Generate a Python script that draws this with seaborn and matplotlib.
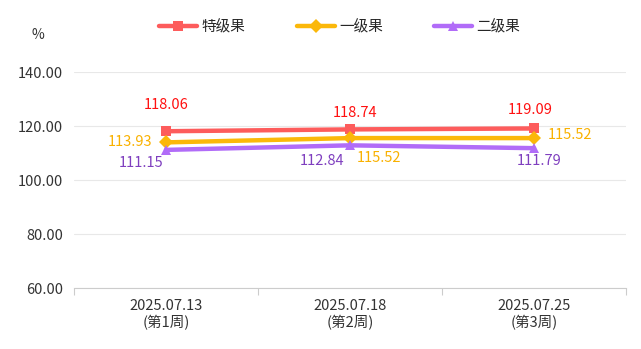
import pandas as pd
import seaborn as sns
import matplotlib.pyplot as plt

weeks = ["2025.07.13\n(第1周)", "2025.07.18\n(第2周)", "2025.07.25\n(第3周)"]
grades = ["特级果", "一级果", "二级果"]
top_grade = [118.06, 118.74, 119.09]
first_grade = [113.93, 115.52, 115.52]
second_grade = [111.15, 112.84, 111.79]

line_colors = ["#fd5c5c", "#fbb80a", "#b16cf8"]
label_colors = ["#ff1010", "#f9b100", "#7f3fbf"]
# label offsets in pixels, per series and point
offsets = [
    [(0, 26), (5, 16), (-4, 18)],
    [(-36, 0), (29, -20), (36, 3)],
    [(-25, -13), (-28, -16), (5, -13)],
]

sns.set_style("white")
plt.rcParams["font.family"] = ["Noto Sans CJK SC", "DejaVu Sans"]

rows = []
for g, vals in zip(grades, [top_grade, first_grade, second_grade]):
    for i, v in enumerate(vals):
        rows.append({"week": i, "grade": g, "value": v})
df = pd.DataFrame(rows)

fig = plt.figure(figsize=(6.41, 3.49), dpi=100)
ax = fig.add_axes([74 / 641, 1 - 288 / 349, 552 / 641, 216 / 349])

sns.lineplot(data=df, x="week", y="value", hue="grade", style="grade",
             hue_order=grades, style_order=grades, palette=line_colors,
             markers=["s", "D", "^"], dashes=False, linewidth=3.2,
             markersize=7, markeredgewidth=0, ax=ax, legend=True)

for k, vals in enumerate([top_grade, first_grade, second_grade]):
    for i, v in enumerate(vals):
        ax.annotate(f"{v:.2f}", (i, v), xytext=offsets[k][i], textcoords="offset pixels",
                    ha="center", va="center", fontsize=10.5, color=label_colors[k])

ax.set_xlim(-0.5, 2.5)
ax.set_ylim(60, 140)
ax.set_yticks([60, 80, 100, 120, 140])
ax.set_yticklabels([f"{t:.2f}" for t in [60, 80, 100, 120, 140]])
ax.set_xticks([0, 1, 2])
ax.set_xticklabels(weeks)
ax.set_xticks([-0.5, 0.5, 1.5, 2.5], minor=True)
ax.tick_params(axis="x", which="major", bottom=False, length=0, pad=8, labelsize=10.5,
               colors="#333333")
ax.tick_params(axis="x", which="minor", bottom=True, length=5, width=0.8,
               color="#cccccc", direction="out")
ax.tick_params(axis="y", length=0, pad=8, labelsize=10.5, colors="#333333")
ax.grid(axis="y", color="#e8e8e8", linewidth=0.8)
ax.set_axisbelow(True)
for s in ["top", "right", "left"]:
    ax.spines[s].set_visible(False)
ax.spines["bottom"].set_color("#cccccc")
ax.set_xlabel("")
ax.set_ylabel("")

fig.text(38 / 641, 1 - 35 / 349, "%", ha="center", va="center", fontsize=10, color="#333333")

handles, labels = ax.get_legend_handles_labels()
ax.legend_.remove()
fig.legend(handles, labels, loc="center", bbox_to_anchor=(0.53, 1 - 27 / 349), ncol=3,
           frameon=False, fontsize=10.5, handlelength=2.6, columnspacing=3.5,
           handletextpad=0.3)

fig.savefig("out.png", dpi=100)
